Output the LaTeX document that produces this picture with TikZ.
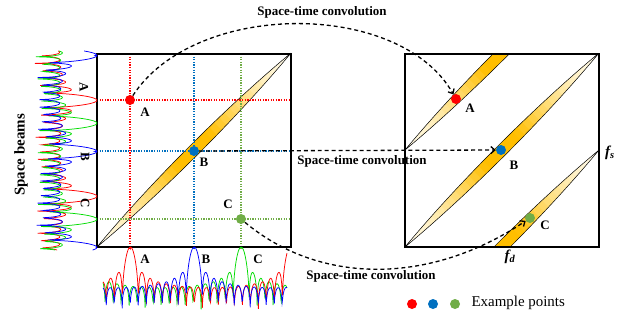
\documentclass[tikz,border=0pt]{standalone}
\usepackage{fontspec}
\setmainfont{Liberation Serif}
\usetikzlibrary{arrows.meta}

\definecolor{ptred}{RGB}{255,0,0}
\definecolor{ptblue}{RGB}{0,112,192}
\definecolor{ptgreen}{RGB}{112,173,71}
\definecolor{plotred}{RGB}{255,0,0}
\definecolor{plotblue}{RGB}{0,0,255}
\definecolor{plotgreen}{RGB}{0,220,0}
\definecolor{lensgold}{RGB}{255,190,0}
\definecolor{lenspale}{RGB}{255,250,232}

% one lens of the ambiguity band, in unit square coordinates
\newcommand{\lenspath}{(0,0) .. controls (0.272,0.328) and (0.672,0.728) .. (1,1)
    .. controls (0.728,0.672) and (0.328,0.272) .. (0,0) -- cycle}
% lens filled pale at the tips and gold in the middle
\newcommand{\drawlens}{%
    \begin{scope}
        \clip \lenspath;
        \foreach \i in {0,...,39} {
            \pgfmathsetmacro{\ca}{2*\i/40-0.003}
            \pgfmathsetmacro{\cb}{2*(\i+1)/40+0.003}
            \pgfmathtruncatemacro{\gmix}{100*min(1,1.3*pow(1-abs(2*(\i+0.5)/40-1),1.5))}
            \fill[lensgold!\gmix!lenspale] (\ca+1,-1) -- (\cb+1,-1) -- (\cb-1,1) -- (\ca-1,1) -- cycle;
        }
    \end{scope}
    \draw[line width=0.5pt] \lenspath;}

\begin{document}
\begin{tikzpicture}[x=1bp, y=-1bp,
    declare function={beam(\u,\n)=pow(abs(sin(\n*\u))/(\n*abs(sin(\u))+0.001)+0.0001,0.32);},
    frame/.style={line width=1.8pt},
    gridline/.style={line width=1.3pt, dash pattern=on 1.3pt off 1.3pt},
    expt/.style={circle, fill=#1, inner sep=0pt, minimum size=10bp},
    conv/.style={line width=1.3pt, dash pattern=on 4pt off 3pt, -{Straight Barb[length=4pt, width=7pt]}},
    lbl/.style={font=\fontsize{13}{15}\selectfont\bfseries},
    beamline/.style={line width=0.75pt}]

    \useasboundingbox (0,0) rectangle (623,320);

    % Draw the lens in the left square
    \begin{scope}[shift={(97,247)}, x=194bp, y=194bp]
        \drawlens
    \end{scope}

    % Draw the three bands in the right square
    \begin{scope}[shift={(405,247)}, x=194bp, y=194bp]
        \clip (0,0) rectangle (1,1);
        \foreach \sy in {0, 0.5, -0.5} {
            \begin{scope}[shift={(0,\sy)}]
                \drawlens
            \end{scope}
        }
    \end{scope}

    % Draw the dotted lines through the example points
    \draw[gridline, ptred] (130,54) -- (130,249);
    \draw[gridline, ptred] (97,100) -- (291,100);
    \draw[gridline, ptblue] (194,54) -- (194,249);
    \draw[gridline, ptblue] (97,151) -- (291,151);
    \draw[gridline, ptgreen] (241,54) -- (241,249);
    \draw[gridline, ptgreen] (97,219) -- (291,219);

    % Draw the two squares
    \draw[frame] (97,54) rectangle (291,247);
    \draw[frame] (405,54) rectangle (599,247);

    % Draw the space beams on the left and the time beams below
    \foreach \col/\pos in {plotred/100.3, plotgreen/219.2, plotblue/151.4} {
        \draw[beamline, \col] plot[domain=51:250, samples=451]
            ({30+67*beam(1.875*(\x-\pos),13)}, \x);
    }
    \foreach \col/\pos in {plotgreen/241.13, plotred/130.37, plotblue/194.21} {
        \draw[beamline, \col] plot[domain=103:287, samples=451]
            (\x, {313-66*beam(1.125*(\x-\pos),20)});
    }

    % Draw the example points
    \node[expt=ptred] (ptA) at (130,100) {};
    \node[expt=ptblue] (ptB) at (194,151) {};
    \node[expt=ptgreen] (ptC) at (241,219) {};
    \node[expt=ptred] (ptAr) at (456,99) {};
    \node[expt=ptblue] (ptBr) at (501,150) {};
    \node[expt=ptgreen] (ptCr) at (530,218) {};

    % Draw the point labels
    \node[lbl] (labA) at (145,112) {A};
    \node[lbl] (labB) at (204,162) {B};
    \node[lbl] (labC) at (228,204) {C};
    \node[lbl] (labAr) at (470,108) {A};
    \node[lbl] (labBr) at (514,165) {B};
    \node[lbl] (labCr) at (545,225) {C};
    \node[lbl] (labAx) at (145,259) {A};
    \node[lbl] (labBx) at (206,259) {B};
    \node[lbl] (labCx) at (258,259) {C};
    \node[lbl, rotate=-90] (labAy) at (84,87) {A};
    \node[lbl, rotate=-90] (labBy) at (85,157) {B};
    \node[lbl, rotate=-90] (labCy) at (85,203) {C};
    \node[font=\fontsize{15}{17}\selectfont\bfseries, rotate=90] (beams) at (21,155) {Space beams};
    \node[font=\fontsize{15}{17}\selectfont\bfseries\itshape] (fs) at (610,153) {f\textsubscript{s}};
    \node[font=\fontsize{15}{17}\selectfont\bfseries\itshape] (fd) at (510,257) {f\textsubscript{d}};

    % Draw the space-time convolution arrows
    \draw[conv] (ptA) .. controls (195,0) and (400,0) .. (ptAr);
    \draw[conv] (ptB) -- (ptBr);
    \draw[conv] (ptC) .. controls (320,285) and (430,285) .. (ptCr);
    \node[lbl] (convA) at (322,12) {Space-time convolution};
    \node[lbl] (convB) at (362,161) {Space-time convolution};
    \node[lbl] (convC) at (371,276) {Space-time convolution};

    % Draw the legend
    \node[expt=ptred] (lgA) at (412,304) {};
    \node[expt=ptblue] (lgB) at (433,304) {};
    \node[expt=ptgreen] (lgC) at (455,304) {};
    \node[font=\fontsize{15}{17}\selectfont, anchor=west] (lgtext) at (468,303) {Example points};
\end{tikzpicture}
\end{document}
